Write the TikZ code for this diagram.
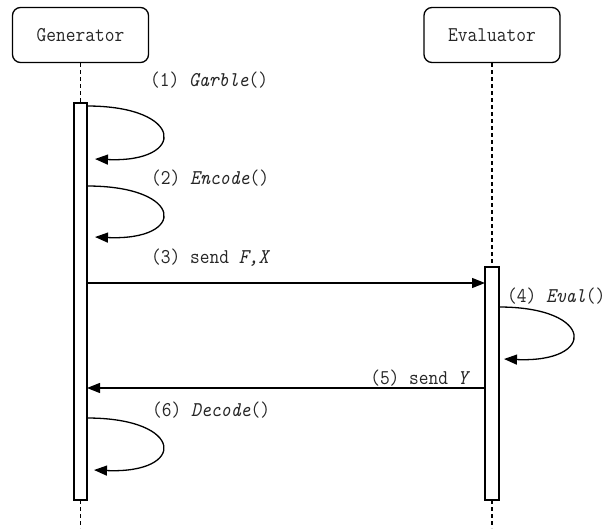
\documentclass[tikz,border=0pt]{standalone}
\usepackage{fontspec}
\setmonofont[FakeStretch=0.9]{Latin Modern Mono}
\usetikzlibrary{arrows.meta}
\tikzset{
  txt/.style={font=\ttfamily\fontsize{21}{23}\selectfont, text=black!85, inner sep=0pt},
  actor/.style={draw, rounded corners=8pt, line width=1.3pt, minimum width=136pt, minimum height=55pt, inner sep=0pt, font=\ttfamily\fontsize{21}{23}\selectfont, text=black!85},
  actbar/.style={draw, fill=white, line width=1.3pt, inner sep=0pt, outer sep=0pt},
  life/.style={line width=1.2pt, dash pattern=on 4pt off 3pt},
  msg/.style={line width=1.3pt, -{Triangle[length=13pt,width=10pt]}},
}
\begin{document}
\begin{tikzpicture}[x=1pt,y=-1pt]
\useasboundingbox (0,0) rectangle (610,528);
% actors
\node[actor] (gen) at (80.5,35) {Generator};
\node[actor] (eva) at (492,35) {Evaluator};
% activation bars
\node[actbar, minimum width=13pt, minimum height=397pt] (genbar) at (80.5,301.5) {};
\node[actbar, minimum width=14pt, minimum height=233pt] (evabar) at (492,383.5) {};
\coordinate (genend) at (80.5,528);
\coordinate (evaend) at (492,528);
% lifelines
\draw[life] (gen.south) -- (genbar.north);
\draw[life] (genbar.south) -- (genend);
\draw[life] (eva.south) -- (evabar.north);
\draw[life] (evabar.south) -- (evaend);
% self loops
\coordinate (l1s) at (87,106); \coordinate (l1e) at (95,159);
\coordinate (l2s) at (87,186); \coordinate (l2e) at (95,237);
\coordinate (l4s) at (499,307); \coordinate (l4e) at (504,359);
\coordinate (l6s) at (87,418); \coordinate (l6e) at (94,470);
\draw[msg] (l1s) .. controls (185,106) and (187,163) .. (l1e);
\draw[msg] (l2s) .. controls (185,186) and (187,241) .. (l2e);
\draw[msg] (l4s) .. controls (595,307) and (597,363) .. (l4e);
\draw[msg] (l6s) .. controls (185,418) and (187,474) .. (l6e);
% messages
\draw[msg] (genbar.east |- 0,283) -- (evabar.west |- 0,283);
\draw[msg] (evabar.west |- 0,388) -- (genbar.east |- 0,388);
% labels
\node[txt, anchor=west] (t1) at (150,80) {(1) \itshape Garble\upshape()};
\node[txt, anchor=west] (t2) at (151,178) {(2) \itshape Encode\upshape()};
\node[txt, anchor=west] (t3) at (151,258) {(3) send \itshape F,X};
\node[txt, anchor=west] (t4) at (507,296) {(4) \itshape Eval\upshape()};
\node[txt, anchor=east] (t5) at (468,378) {(5) send \itshape Y};
\node[txt, anchor=west] (t6) at (152,410) {(6) \itshape Decode\upshape()};
\end{tikzpicture}
\end{document}
